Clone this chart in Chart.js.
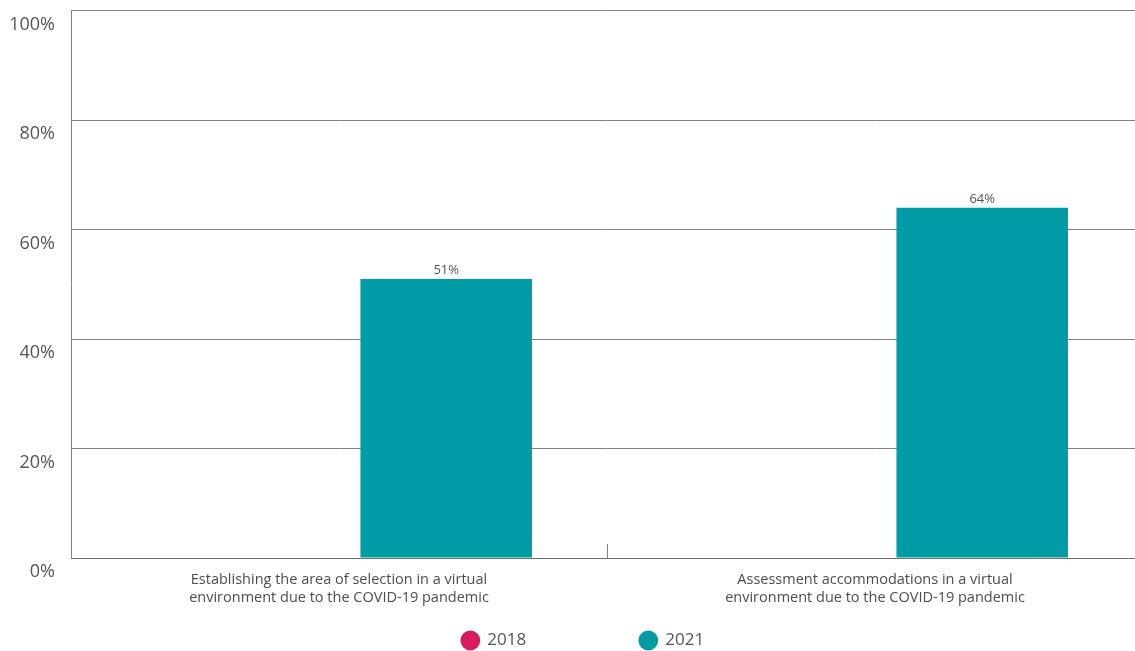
<!DOCTYPE html>
<html>
<head>
<meta charset="utf-8">
<script src="https://cdn.jsdelivr.net/npm/chart.js@4"></script>
<style>
  html, body { margin: 0; padding: 0; background: #fff; overflow: hidden; }
  #box { position: relative; top: -16px; width: 1166px; height: 667px; }
</style>
</head>
<body>
<div id="box"><canvas id="myChart"></canvas></div>
<script>
const categories = [
  ['Establishing the area of selection in a virtual', 'environment due to the COVID-19 pandemic'],
  ['Assessment accommodations in a virtual', 'environment due to the COVID-19 pandemic']
]
const years = ['2018', '2021']
const values2018 = [null, null]
const values2021 = [51, 64]
const yTicks = [0, 20, 40, 60, 80, 100]

const pink = '#d81b60'
const teal = '#009ca6'
const gridGray = '#808080'
const font = "'Open Sans', 'Noto Sans', sans-serif"

// percent labels over each bar
const barValues = {
  id: 'barValues',
  afterDatasetsDraw(chart) {
    const ctx = chart.ctx
    ctx.save()
    ctx.font = '13px ' + font
    ctx.fillStyle = '#555'
    ctx.textAlign = 'center'
    ctx.textBaseline = 'bottom'
    chart.data.datasets.forEach((ds, i) => {
      chart.getDatasetMeta(i).data.forEach((bar, j) => {
        if (ds.data[j] == null) return
        ctx.fillText(ds.data[j] + '%', bar.x, bar.y - 2)
      })
    })
    ctx.restore()
  }
}

const data = {
  labels: categories,
  datasets: [
    { label: years[0], data: values2018, backgroundColor: pink },
    { label: years[1], data: values2021, backgroundColor: teal }
  ]
}

const config = {
  type: 'bar',
  data: data,
  options: {
    responsive: true,
    maintainAspectRatio: false,
    animation: false,
    layout: { padding: { top: 10, left: 0, right: 0, bottom: -8 } },
    datasets: { bar: { categoryPercentage: 0.8, barPercentage: 0.8 } },
    scales: {
      x: {
        offset: true,
        grid: { display: true, offset: true, drawOnChartArea: false, drawTicks: true, tickLength: -14, color: gridGray },
        border: { display: true, color: '#6e6e6e' },
        ticks: { color: '#4d4d4d', padding: 27, font: { family: font, size: 14.5, lineHeight: 1.25 } },
        afterFit(scale) { scale.height = 62 }
      },
      y: {
        min: 0,
        max: 100,
        afterBuildTicks(scale) { scale.ticks = yTicks.map(v => ({ value: v })) },
        grid: { color: gridGray, drawTicks: false },
        border: { display: true, color: gridGray },
        ticks: {
          color: '#555',
          padding: 16,
          labelOffset: 14,
          font: { family: font, size: 18 },
          callback: v => v + '%'
        },
        afterFit(scale) { scale.width = 71 }
      },
      // empty strip on the right, keeps the legend centred under the plot
      side: {
        type: 'linear',
        position: 'right',
        grid: { display: false },
        border: { display: false },
        ticks: { display: false },
        afterFit(scale) { scale.width = 23 }
      }
    },
    plugins: {
      tooltip: { enabled: false },
      legend: {
        position: 'bottom',
        labels: {
          usePointStyle: true,
          pointStyle: 'circle',
          boxHeight: 14,
          padding: 12,
          color: '#555',
          font: { family: font, size: 17 },
          generateLabels(chart) {
            const items = Chart.defaults.plugins.legend.labels.generateLabels(chart)
            // widen the first entry so the two keys sit far apart
            items[0].text = items[0].text + ' '.repeat(23)
            return items
          }
        }
      }
    }
  },
  plugins: [barValues]
}

new Chart(document.getElementById('myChart'), config)
</script>
</body>
</html>
